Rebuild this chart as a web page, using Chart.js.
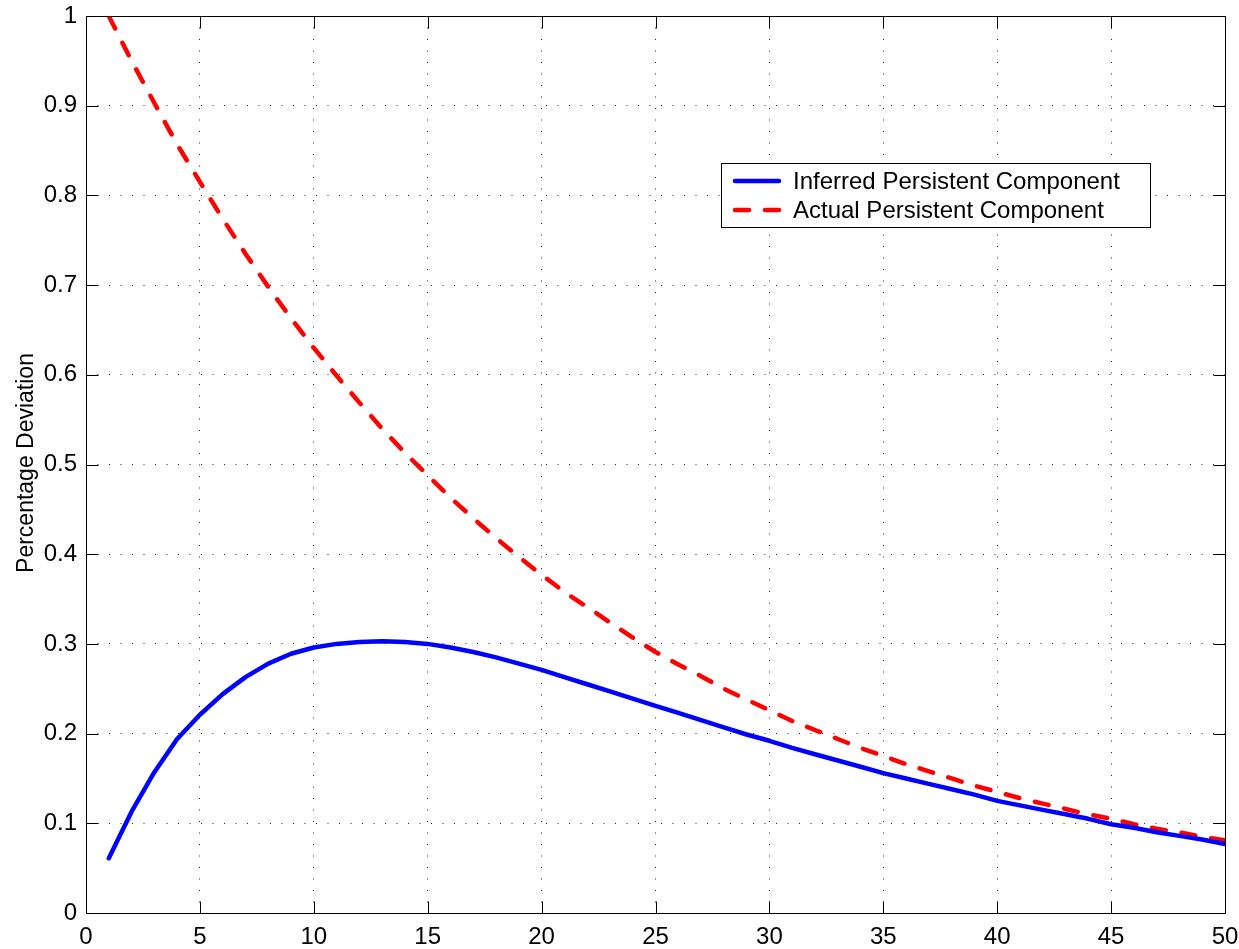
<!DOCTYPE html>
<html>
<head>
<meta charset="utf-8">
<script src="https://cdn.jsdelivr.net/npm/chart.js@4/dist/chart.umd.min.js"></script>
<style>
html,body{margin:0;padding:0;background:#fff;}
#wrap{width:1239px;height:949px;position:relative;}
</style>
</head>
<body>
<div id="wrap"><canvas id="c"></canvas></div>
<script>
// ---- data ----
const periods = [1,2,3,4,5,6,7,8,9,10,11,12,13,14,15,16,17,18,19,20,21,22,23,24,25,26,27,28,29,30,31,32,33,34,35,36,37,38,39,40,41,42,43,44,45,46,47,48,49,50];
const inferred = [0.061,0.113,0.157,0.194,0.221,0.244,0.263,0.278,0.289,0.296,0.300,0.302,0.303,0.302,0.300,0.296,0.291,0.285,0.278,0.271,0.263,0.255,0.247,0.239,0.231,0.223,0.215,0.207,0.199,0.192,0.184,0.177,0.170,0.163,0.156,0.150,0.144,0.138,0.132,0.125,0.120,0.115,0.110,0.105,0.099,0.095,0.090,0.086,0.082,0.077];
const actual = [1.000,0.950,0.903,0.857,0.815,0.774,0.735,0.698,0.663,0.630,0.599,0.569,0.540,0.513,0.488,0.463,0.440,0.418,0.397,0.377,0.358,0.341,0.324,0.307,0.291,0.277,0.264,0.250,0.238,0.226,0.214,0.204,0.194,0.184,0.175,0.166,0.158,0.150,0.142,0.135,0.128,0.122,0.116,0.110,0.105,0.099,0.094,0.090,0.085,0.081];
const xTicks = [0,5,10,15,20,25,30,35,40,45,50];
const yTicks = [0,0.1,0.2,0.3,0.4,0.5,0.6,0.7,0.8,0.9,1];
const seriesNames = ['Inferred Persistent Component','Actual Persistent Component'];
const yTitle = 'Percentage Deviation';

const FONT = "'Liberation Sans', Arial, Helvetica, sans-serif";

const framePlugin = {
  id: 'frame',
  afterDraw(chart) {
    const ctx = chart.ctx;
    const a = chart.chartArea;
    const xs = chart.scales.x, ys = chart.scales.y;
    ctx.save();
    ctx.strokeStyle = '#000';
    ctx.lineWidth = 1;
    ctx.setLineDash([]);
    const L = Math.round(a.left) + 0.5, R = Math.round(a.right) + 0.5;
    const T = Math.round(a.top) + 0.5, B = Math.round(a.bottom) + 0.5;
    ctx.strokeRect(L, T, R - L, B - T);
    const tl = 12;
    ctx.beginPath();
    xTicks.forEach(v => {
      const px = Math.round(xs.getPixelForValue(v)) + 0.5;
      ctx.moveTo(px, B); ctx.lineTo(px, B - tl);
      ctx.moveTo(px, T); ctx.lineTo(px, T + tl);
    });
    yTicks.forEach(v => {
      const py = Math.round(ys.getPixelForValue(v)) + 0.5;
      ctx.moveTo(L, py); ctx.lineTo(L + tl, py);
      ctx.moveTo(R, py); ctx.lineTo(R - tl, py);
    });
    ctx.stroke();

    // y axis title
    ctx.save();
    ctx.translate(33, 463);
    ctx.rotate(-Math.PI / 2);
    ctx.font = '23px ' + FONT;
    ctx.fillStyle = '#000';
    ctx.textAlign = 'center';
    ctx.textBaseline = 'alphabetic';
    ctx.fillText(yTitle, 0, 0);
    ctx.restore();

    // legend
    const bx = 721.5, by = 163.5, bw = 429, bh = 64;
    ctx.fillStyle = '#fff';
    ctx.fillRect(bx, by, bw, bh);
    ctx.strokeStyle = '#000';
    ctx.lineWidth = 1;
    ctx.strokeRect(bx, by, bw, bh);
    const rows = [181, 210];
    chart.data.datasets.forEach((ds, i) => {
      const y = rows[i];
      ctx.beginPath();
      ctx.strokeStyle = ds.borderColor;
      ctx.lineWidth = ds.borderWidth;
      ctx.lineCap = 'round';
      ctx.setLineDash(ds.borderDash || []);
      ctx.moveTo(735, y); ctx.lineTo(779, y);
      ctx.stroke();
      ctx.setLineDash([]);
      ctx.fillStyle = '#000';
      ctx.font = '24px ' + FONT;
      ctx.textAlign = 'left';
      ctx.textBaseline = 'middle';
      ctx.fillText(ds.label, 793, y + 1);
    });
    ctx.restore();
  }
};

const mk = (vals) => periods.map((p, i) => ({x: p, y: vals[i]}));

new Chart(document.getElementById('c'), {
  type: 'line',
  data: {
    datasets: [
      {label: seriesNames[0], data: mk(inferred), borderColor: '#0000ff', borderWidth: 4.5,
       pointRadius: 0, fill: false, tension: 0, borderCapStyle: 'round', borderJoinStyle: 'round'},
      {label: seriesNames[1], data: mk(actual), borderColor: '#ff0000', borderWidth: 4.5,
       borderDash: [14, 16], pointRadius: 0, fill: false, tension: 0, borderCapStyle: 'round', borderJoinStyle: 'round'}
    ]
  },
  options: {
    responsive: true,
    maintainAspectRatio: false,
    animation: false,
    events: [],
    layout: {padding: {top: 16, right: 14, left: 0, bottom: 0}},
    plugins: {legend: {display: false}, tooltip: {enabled: false}, title: {display: false}},
    scales: {
      x: {
        type: 'linear', min: 0, max: 50,
        afterBuildTicks: s => { s.ticks = xTicks.map(v => ({value: v})); },
        afterFit: s => { s.height = 36; s.paddingLeft = 0; s.paddingRight = 0; s.paddingTop = 0; s.paddingBottom = 0; },
        ticks: {color: '#000', font: {size: 24, family: FONT}, padding: 10, maxRotation: 0,
                callback: v => String(v)},
        grid: {color: '#222', lineWidth: 1, drawTicks: false},
        border: {display: false, dash: [1, 10.5]}
      },
      y: {
        type: 'linear', min: 0, max: 1,
        afterBuildTicks: s => { s.ticks = yTicks.map(v => ({value: v})); },
        afterFit: s => { s.width = 86; s.paddingLeft = 0; s.paddingRight = 0; s.paddingTop = 0; s.paddingBottom = 0; },
        ticks: {color: '#000', font: {size: 24, family: FONT}, padding: 9,
                callback: v => String(+Number(v).toFixed(1))},
        grid: {color: '#222', lineWidth: 1, drawTicks: false},
        border: {display: false, dash: [1, 10.5]}
      }
    }
  },
  plugins: [framePlugin]
});
</script>
</body>
</html>
